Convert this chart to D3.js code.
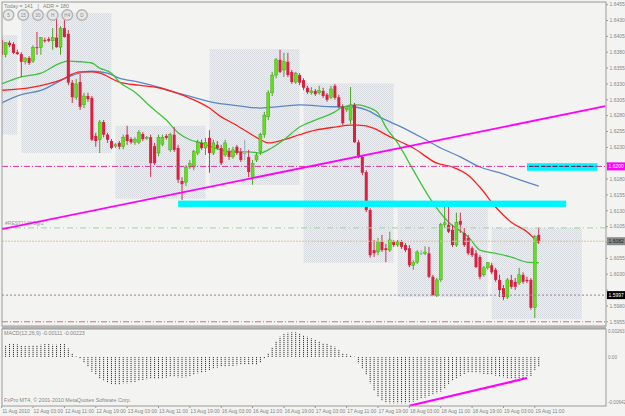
<!DOCTYPE html>
<html>
<head>
<meta charset="utf-8">
<script src="https://cdn.jsdelivr.net/npm/d3@7/dist/d3.min.js"></script>
<style>
  body { margin: 0; background: #fff; }
  svg { display: block; font-family: "Liberation Sans Narrow", "Liberation Sans", Arial, sans-serif; }
</style>
</head>
<body>
<svg id="chart"></svg>
<script>
const width = 625;
const height = 416;

// hourly bars, 11 Aug 19:00 .. 19 Aug 12:00
const opens = [1.6399,1.6376,1.6395,1.6393,1.6380,1.6377,1.6365,1.6371,1.6366,1.6388,
1.6387,1.6399,1.6401,1.6398,1.6403,1.6388,1.6418,1.6409,1.6332,1.6309,
1.6333,1.6297,1.6311,1.6308,1.6248,1.6242,1.6270,1.6250,1.6240,1.6232,
1.6237,1.6231,1.6250,1.6243,1.6238,1.6238,1.6251,1.6245,1.6246,1.6232,
1.6221,1.6235,1.6248,1.6226,1.6250,1.6229,1.6177,1.6175,1.6199,1.6199,
1.6221,1.6237,1.6229,1.6245,1.6221,1.6234,1.6229,1.6218,1.6223,1.6215,
1.6231,1.6223,1.6221,1.6215,1.6183,1.6210,1.6223,1.6250,1.6278,1.6316,
1.6344,1.6368,1.6352,1.6365,1.6349,1.6333,1.6344,1.6336,1.6324,1.6316,
1.6319,1.6316,1.6319,1.6313,1.6309,1.6327,1.6309,1.6294,1.6289,1.6273,
1.6297,1.6238,1.6215,1.6191,1.6131,1.6068,1.6065,1.6081,1.6071,1.6068,
1.6081,1.6076,1.6081,1.6076,1.6071,1.6044,1.6049,1.6063,1.6063,1.6063,
1.6026,1.5997,1.6021,1.6108,1.6108,1.6100,1.6076,1.6114,1.6095,1.6087,
1.6071,1.6063,1.6057,1.6029,1.6040,1.6044,1.6037,1.6021,1.6008,1.5994,
1.6021,1.6018,1.6016,1.6029,1.6021,1.6021,1.5977,1.6092];

const highs = [1.6403,1.6396,1.6398,1.6396,1.6384,1.6380,1.6372,1.6374,1.6391,1.6412,
1.6404,1.6403,1.6404,1.6418,1.6439,1.6421,1.6444,1.6415,1.6336,1.6338,
1.6346,1.6316,1.6316,1.6311,1.6253,1.6273,1.6273,1.6253,1.6243,1.6237,
1.6240,1.6250,1.6264,1.6246,1.6246,1.6257,1.6254,1.6248,1.6250,1.6237,
1.6250,1.6250,1.6251,1.6253,1.6262,1.6234,1.6183,1.6202,1.6210,1.6226,
1.6242,1.6242,1.6245,1.6257,1.6242,1.6240,1.6234,1.6242,1.6229,1.6231,
1.6234,1.6229,1.6242,1.6226,1.6210,1.6221,1.6253,1.6286,1.6320,1.6349,
1.6371,1.6384,1.6379,1.6379,1.6352,1.6349,1.6347,1.6339,1.6327,1.6325,
1.6322,1.6327,1.6324,1.6316,1.6327,1.6330,1.6313,1.6298,1.6292,1.6325,
1.6300,1.6242,1.6218,1.6194,1.6134,1.6084,1.6087,1.6092,1.6078,1.6097,
1.6084,1.6084,1.6084,1.6079,1.6076,1.6052,1.6068,1.6068,1.6074,1.6073,
1.6029,1.6024,1.6111,1.6136,1.6136,1.6108,1.6127,1.6127,1.6103,1.6092,
1.6074,1.6068,1.6060,1.6043,1.6049,1.6048,1.6040,1.6029,1.6013,1.6024,
1.6029,1.6024,1.6040,1.6033,1.6026,1.6024,1.6092,1.6103];

const lows = [1.6372,1.6372,1.6388,1.6377,1.6376,1.6341,1.6361,1.6360,1.6363,1.6376,
1.6376,1.6395,1.6396,1.6384,1.6387,1.6376,1.6403,1.6328,1.6300,1.6305,
1.6289,1.6292,1.6302,1.6240,1.6231,1.6221,1.6246,1.6237,1.6227,1.6229,
1.6227,1.6227,1.6234,1.6235,1.6234,1.6235,1.6240,1.6242,1.6183,1.6202,
1.6216,1.6232,1.6242,1.6223,1.6223,1.6174,1.6147,1.6169,1.6196,1.6194,
1.6218,1.6226,1.6218,1.6190,1.6218,1.6226,1.6202,1.6215,1.6210,1.6212,
1.6218,1.6207,1.6210,1.6183,1.6171,1.6207,1.6218,1.6245,1.6273,1.6311,
1.6339,1.6347,1.6341,1.6341,1.6330,1.6330,1.6328,1.6320,1.6314,1.6313,
1.6311,1.6313,1.6308,1.6302,1.6306,1.6305,1.6292,1.6265,1.6286,1.6267,
1.6237,1.6213,1.6186,1.6128,1.6056,1.6057,1.6060,1.6065,1.6049,1.6065,
1.6073,1.6073,1.6070,1.6065,1.6041,1.6037,1.6046,1.6060,1.6060,1.6024,
1.5996,1.5994,1.6018,1.6103,1.6095,1.6073,1.6073,1.6095,1.6073,1.6060,
1.6057,1.6040,1.6022,1.6026,1.6037,1.6030,1.6018,1.5994,1.5989,1.5991,
1.6007,1.6005,1.6013,1.6015,1.6016,1.5974,1.5961,1.6078];

const closes = [1.6376,1.6395,1.6391,1.6379,1.6377,1.6365,1.6371,1.6363,1.6388,1.6387,
1.6403,1.6398,1.6398,1.6403,1.6388,1.6418,1.6404,1.6332,1.6309,1.6330,
1.6294,1.6311,1.6306,1.6242,1.6240,1.6270,1.6250,1.6242,1.6229,1.6234,
1.6231,1.6246,1.6240,1.6238,1.6243,1.6253,1.6243,1.6246,1.6205,1.6205,
1.6246,1.6246,1.6245,1.6250,1.6226,1.6179,1.6172,1.6199,1.6205,1.6223,
1.6238,1.6229,1.6238,1.6221,1.6237,1.6229,1.6205,1.6237,1.6215,1.6226,
1.6221,1.6210,1.6221,1.6191,1.6205,1.6218,1.6250,1.6281,1.6316,1.6344,
1.6368,1.6349,1.6365,1.6344,1.6333,1.6347,1.6332,1.6324,1.6317,1.6319,
1.6314,1.6320,1.6311,1.6305,1.6322,1.6308,1.6294,1.6268,1.6292,1.6297,
1.6238,1.6215,1.6190,1.6131,1.6060,1.6063,1.6081,1.6068,1.6068,1.6084,
1.6076,1.6081,1.6073,1.6068,1.6044,1.6049,1.6065,1.6063,1.6065,1.6026,
1.5997,1.6021,1.6108,1.6111,1.6097,1.6076,1.6112,1.6108,1.6076,1.6063,
1.6060,1.6041,1.6026,1.6040,1.6048,1.6033,1.6021,1.6005,1.5994,1.6021,
1.6010,1.6010,1.6029,1.6018,1.6019,1.5977,1.6089,1.6082];

// MACD(12,26,9) main line, one value per bar
const macd = [0.00129,0.00150,0.00163,0.00163,0.00159,0.00146,0.00138,0.00138,0.00141,0.00146,
0.00154,0.00163,0.00163,0.00154,0.00154,0.00163,0.00163,0.00109,0.00046,0.00006,
-0.00016,-0.00071,-0.00121,-0.00184,-0.00225,-0.00266,-0.00300,-0.00321,-0.00338,-0.00350,
-0.00341,-0.00329,-0.00329,-0.00321,-0.00313,-0.00300,-0.00288,-0.00279,-0.00275,-0.00271,
-0.00266,-0.00266,-0.00259,-0.00246,-0.00246,-0.00254,-0.00259,-0.00254,-0.00238,-0.00216,
-0.00204,-0.00196,-0.00184,-0.00163,-0.00146,-0.00134,-0.00121,-0.00121,-0.00113,-0.00113,
-0.00104,-0.00100,-0.00100,-0.00100,-0.00100,-0.00091,-0.00071,-0.00016,0.00046,0.00121,
0.00200,0.00254,0.00288,0.00304,0.00309,0.00309,0.00296,0.00275,0.00254,0.00234,
0.00213,0.00191,0.00171,0.00163,0.00150,0.00129,0.00088,0.00046,0.00034,0.00025,
0.00004,-0.00079,-0.00141,-0.00225,-0.00329,-0.00425,-0.00496,-0.00546,-0.00571,-0.00579,
-0.00579,-0.00579,-0.00579,-0.00579,-0.00571,-0.00559,-0.00538,-0.00525,-0.00509,-0.00488,
-0.00475,-0.00454,-0.00434,-0.00391,-0.00338,-0.00296,-0.00266,-0.00238,-0.00213,-0.00196,
-0.00196,-0.00196,-0.00204,-0.00213,-0.00216,-0.00225,-0.00234,-0.00246,-0.00254,-0.00266,
-0.00275,-0.00279,-0.00279,-0.00266,-0.00246,-0.00238,-0.00163,-0.00121];

// moving averages, read as [bar, price]
const maFast = [[0,1.6330],[5,1.6341],[10,1.6347],[15,1.6363],[17,1.6366],[20,1.6365],[23,1.6363],
[25,1.6355],[28,1.6347],[30,1.6333],[34,1.6317],[38,1.6294],[42,1.6273],[45,1.6253],[48,1.6242],
[51,1.6237],[53,1.6232],[59,1.6223],[63,1.6223],[66,1.6221],[68,1.6226],[72,1.6242],[76,1.6262],
[80,1.6273],[85,1.6286],[87,1.6294],[91,1.6297],[93,1.6294],[96,1.6284],[98,1.6262],[101,1.6237],
[105,1.6194],[109,1.6152],[114,1.6112],[119,1.6089],[122,1.6068],[126,1.6063],[130,1.6057],
[134,1.6049],[137,1.6048]];
const maMid = [[0,1.6320],[8,1.6325],[15,1.6336],[20,1.6349],[23,1.6349],[25,1.6347],[30,1.6333],
[35,1.6328],[40,1.6324],[44,1.6317],[49,1.6305],[53,1.6292],[56,1.6278],[59,1.6268],[63,1.6253],
[66,1.6242],[68,1.6237],[72,1.6242],[76,1.6250],[80,1.6257],[85,1.6262],[89,1.6265],[91,1.6265],
[95,1.6260],[98,1.6250],[102,1.6238],[105,1.6229],[111,1.6205],[115,1.6199],[119,1.6186],
[122,1.6167],[126,1.6136],[130,1.6112],[134,1.6097],[137,1.6079]];
const maSlow = [[0,1.6300],[5,1.6313],[10,1.6320],[17,1.6341],[21,1.6349],[23,1.6350],[27,1.6347],
[30,1.6339],[35,1.6333],[40,1.6325],[44,1.6317],[49,1.6309],[53,1.6302],[61,1.6295],[66,1.6292],
[72,1.6295],[76,1.6297],[85,1.6294],[89,1.6294],[93,1.6289],[97,1.6276],[102,1.6262],[107,1.6246],
[112,1.6229],[117,1.6215],[122,1.6199],[127,1.6190],[132,1.6179],[137,1.6169]];

// daily session ranges (bar from, bar to, high, low)
const sessionFrom = [-20, 5, 29, 53, 77, 101, 125];
const sessionTo = [4, 28, 52, 76, 100, 124, 148];
const sessionHigh = [1.6407, 1.6442, 1.6264, 1.6385, 1.6331, 1.6134, 1.6103];
const sessionLow = [1.6250, 1.6221, 1.6149, 1.6171, 1.6048, 1.5994, 1.5959];

// cyan zones
const zoneFrom = [45, 134];
const zoneTo = [144, 152];
const zoneTop = [1.6146, 1.6205];
const zoneBottom = [1.6136, 1.6193];

// horizontal levels
const levelMagenta = 1.6200;
const levelGreen = 1.6103;
const levelBid = 1.6082;
const levelPurple = 1.5997;
const levelPink = 1.5955;

// trend lines [bar, value]
const trendMain = [[0, 1.6101], [154, 1.6295]];
const trendMacd = [[104, -0.00610], [134, -0.00263]];

const priceTicks = [1.6455,1.6430,1.6405,1.6380,1.6355,1.6330,1.6305,1.6280,1.6255,1.6230,1.6205,
1.6180,1.6155,1.6130,1.6105,1.6080,1.6055,1.6030,1.6005,1.5980,1.5955];
const macdTickLabels = ["0.00263", "0.00", "-0.00642"];
const timeTickBars = [0,8,16,24,32,40,48,56,64,72,80,88,96,104,112,120,128,136];
const timeTickLabels = ["11 Aug 2010","12 Aug 03:00","12 Aug 11:00","12 Aug 19:00","13 Aug 03:00",
"13 Aug 11:00","13 Aug 19:00","16 Aug 03:00","16 Aug 11:00","16 Aug 19:00","17 Aug 03:00",
"17 Aug 11:00","17 Aug 19:00","18 Aug 03:00","18 Aug 11:00","18 Aug 19:00","19 Aug 03:00","19 Aug 11:00"];
const tfButtons = ["5", "15", "30", "H", "H4", "D"];

// layout
const left = 2, right = 606;
const mainTop = 2, mainBottom = 326;
const macdTop = 329, macdBottom = 406;
const bg = "#f3f4f1";
const axisColor = "#9a9a9a";
const textColor = "#858585";
const fs = 5;

const svg = d3.select("#chart").attr("width", width).attr("height", height);

const x = d3.scaleLinear().domain([0, 154]).range([1.7, 1.7 + 3.92 * 154]);
const y = d3.scaleLinear().domain([1.59483, 1.64592]).range([mainBottom, mainTop]);
const ym = d3.scaleLinear().domain([-0.006125, 0.0035]).range([macdBottom, macdTop]);

svg.append("rect").attr("width", width).attr("height", height).attr("fill", bg);

const defs = svg.append("defs");
const pat = defs.append("pattern").attr("id", "dots")
  .attr("width", 2).attr("height", 2).attr("patternUnits", "userSpaceOnUse");
pat.append("rect").attr("width", 2).attr("height", 2).attr("fill", "#eceef0");
pat.append("rect").attr("width", 1).attr("height", 1).attr("fill", "#d6d9dd");
pat.append("rect").attr("x", 1).attr("y", 1).attr("width", 1).attr("height", 1).attr("fill", "#dcdfe2");

defs.append("clipPath").attr("id", "clipMain").append("rect")
  .attr("x", left).attr("y", mainTop).attr("width", right - left).attr("height", mainBottom - mainTop);
defs.append("clipPath").attr("id", "clipMacd").append("rect")
  .attr("x", left).attr("y", macdTop).attr("width", right - left).attr("height", macdBottom - macdTop);

const main = svg.append("g").attr("clip-path", "url(#clipMain)");
const lower = svg.append("g").attr("clip-path", "url(#clipMacd)");

//session boxes
main.selectAll(".session")
  .data(sessionFrom.map((f, i) => ({ f, t: sessionTo[i], h: sessionHigh[i], l: sessionLow[i] })))
  .enter().append("rect")
  .attr("x", d => x(d.f))
  .attr("width", d => x(d.t) - x(d.f))
  .attr("y", d => y(d.h))
  .attr("height", d => y(d.l) - y(d.h))
  .attr("fill", "url(#dots)");

//moving averages
const maLine = d3.line().x(d => x(d[0])).y(d => y(d[1])).curve(d3.curveMonotoneX);
[[maSlow, "#5b86c9"], [maMid, "#ff1f1f"], [maFast, "#3cc43c"]].forEach(([data, color]) => {
  main.append("path").datum(data)
    .attr("fill", "none").attr("stroke", color).attr("stroke-width", 1.3)
    .attr("d", maLine);
});

//candles
const bars = opens.map((o, i) => ({ i, o, h: highs[i], l: lows[i], c: closes[i] }));
const candleColor = d => d.c > d.o ? "#5fe01a" : (d.c < d.o ? "#d9213f" : "#8fa7bf");
const wickColor = d => d.c > d.o ? "#4aa81c" : (d.c < d.o ? "#cf2f55" : "#8fa7bf");

main.selectAll(".wick").data(bars).enter().append("line")
  .attr("x1", d => x(d.i)).attr("x2", d => x(d.i))
  .attr("y1", d => y(d.h)).attr("y2", d => y(d.l))
  .attr("stroke", wickColor).attr("stroke-width", 1);

main.selectAll(".body").data(bars).enter().append("rect")
  .attr("x", d => x(d.i) - 1.5).attr("width", 3)
  .attr("y", d => y(Math.max(d.o, d.c)))
  .attr("height", d => Math.max(1, Math.abs(y(d.o) - y(d.c))))
  .attr("fill", candleColor)
  .attr("stroke", d => d.c > d.o ? "#3f9a17" : "none")
  .attr("stroke-width", 0.4);

//cyan zones
main.selectAll(".zone")
  .data(zoneFrom.map((f, i) => ({ f, t: zoneTo[i], top: zoneTop[i], bot: zoneBottom[i] })))
  .enter().append("rect")
  .attr("x", d => x(d.f)).attr("width", d => x(d.t) - x(d.f))
  .attr("y", d => y(d.top)).attr("height", d => y(d.bot) - y(d.top))
  .attr("fill", "#00f5ff");

//horizontal levels
function hline(price, color, dash, w) {
  main.append("line")
    .attr("x1", left).attr("x2", right)
    .attr("y1", y(price)).attr("y2", y(price))
    .attr("stroke", color).attr("stroke-width", w || 1)
    .attr("stroke-dasharray", dash);
}
hline(levelMagenta, "#e0309a", "6,2,1,2");
hline(levelGreen, "#9bd79b", "6,3,1,3");
hline(levelBid, "#d8c48f", "2,1");
hline(levelPurple, "#a07aa8", "2,2");
hline(levelPink, "#e8608a", "6,2,1,2");

// dark dashes where the magenta level crosses the right zone
main.append("line")
  .attr("x1", x(zoneFrom[1]) + 2).attr("x2", x(zoneTo[1]) - 2)
  .attr("y1", y(levelMagenta)).attr("y2", y(levelMagenta))
  .attr("stroke", "#1d3c55").attr("stroke-width", 1).attr("stroke-dasharray", "4,2");

main.append("text")
  .attr("x", 5).attr("y", y(levelGreen) - 3)
  .attr("font-size", fs).attr("fill", "#9a9a9a")
  .text("#REST1148.5@2");

//trend line
const trendLine = d3.line().x(d => x(d[0])).y(d => y(d[1]));
main.append("path").datum(trendMain)
  .attr("fill", "none").attr("stroke", "#ff00ff").attr("stroke-width", 1.8)
  .attr("d", trendLine);

//MACD histogram
lower.selectAll(".hist").data(macd).enter().append("line")
  .attr("x1", (d, i) => x(i)).attr("x2", (d, i) => x(i))
  .attr("y1", ym(0)).attr("y2", d => ym(d))
  .attr("stroke", "#3c3c3c").attr("stroke-width", 1).attr("stroke-dasharray", "1.2,0.8");

const macdTrend = d3.line().x(d => x(d[0])).y(d => ym(d[1]));
svg.append("path").datum(trendMacd)
  .attr("fill", "none").attr("stroke", "#ff00ff").attr("stroke-width", 2.2)
  .attr("d", macdTrend);

//frames
svg.append("rect").attr("x", left).attr("y", mainTop)
  .attr("width", right - left).attr("height", mainBottom - mainTop)
  .attr("fill", "none").attr("stroke", axisColor).attr("stroke-width", 1);
svg.append("rect").attr("x", left).attr("y", mainBottom).attr("width", right - left).attr("height", 3)
  .attr("fill", "#b4b4b4");
svg.append("rect").attr("x", left).attr("y", macdTop)
  .attr("width", right - left).attr("height", macdBottom - macdTop)
  .attr("fill", "none").attr("stroke", axisColor).attr("stroke-width", 1);

//price axis, labels under the level boxes are hidden as in the terminal
const boxed = [levelMagenta, levelBid, levelPurple];
const visibleTicks = priceTicks.filter(t => boxed.every(b => Math.abs(y(t) - y(b)) > 7));
const pAxis = svg.append("g");
pAxis.selectAll(".ptick").data(priceTicks).enter().append("line")
  .attr("x1", right).attr("x2", right + 2)
  .attr("y1", d => y(d)).attr("y2", d => y(d))
  .attr("stroke", axisColor);
pAxis.selectAll(".plabel").data(visibleTicks).enter().append("text")
  .attr("x", right + 3.5).attr("y", d => y(d) + 1.8)
  .attr("font-size", fs).attr("fill", textColor)
  .text(d => d.toFixed(4));

function priceBox(price, fill, color) {
  pAxis.append("rect").attr("x", right + 1).attr("y", y(price) - 4)
    .attr("width", 18).attr("height", 8).attr("fill", fill);
  pAxis.append("text").attr("x", right + 2.5).attr("y", y(price) + 1.8)
    .attr("font-size", fs).attr("fill", color)
    .text(price.toFixed(4));
}
priceBox(levelMagenta, "#ff00ff", "#fff");
priceBox(levelBid, "#8a8a8a", "#222");
priceBox(levelPurple, "#000", "#fff");

//macd axis
const macdLabelY = [macdTop + 4, ym(0) + 2, macdBottom - 2];
svg.selectAll(".mlabel").data(macdTickLabels).enter().append("text")
  .attr("x", right + 2).attr("y", (d, i) => macdLabelY[i])
  .attr("font-size", 4.6).attr("fill", textColor)
  .text(d => d);

//time axis
svg.selectAll(".ttick").data(timeTickBars).enter().append("line")
  .attr("x1", d => x(d)).attr("x2", d => x(d))
  .attr("y1", macdBottom).attr("y2", macdBottom + 2)
  .attr("stroke", axisColor);
svg.selectAll(".tlabel").data(timeTickBars).enter().append("text")
  .attr("x", d => x(d) + 0.5).attr("y", 413)
  .attr("font-size", fs).attr("fill", textColor)
  .text((d, i) => timeTickLabels[i]);

//texts
svg.append("text").attr("x", 4).attr("y", 8)
  .attr("font-size", fs + 0.3).attr("fill", textColor)
  .attr("xml:space", "preserve")
  .text("Today = 141   |   ADR = 180");

const btn = svg.selectAll(".btn").data(tfButtons).enter().append("g")
  .attr("transform", (d, i) => `translate(${8.5 + i * 14.7},15)`);
btn.append("circle").attr("r", 5.3)
  .attr("fill", "#e6e7e8").attr("stroke", "#b3b3b3").attr("stroke-width", 1.4);
btn.append("text").attr("text-anchor", "middle").attr("y", 1.8)
  .attr("font-size", 4.6).attr("fill", "#8d8d8d").text(d => d);

svg.append("text").attr("x", 4).attr("y", macdTop + 6)
  .attr("font-size", fs + 0.3).attr("fill", textColor)
  .text("MACD(12,26,9) -0.00111 -0.00223");
svg.append("text").attr("x", 4).attr("y", macdBottom - 4)
  .attr("font-size", fs + 0.3).attr("fill", textColor)
  .text("FxPro MT4, © 2001-2010 MetaQuotes Software Corp.");
</script>
</body>
</html>
